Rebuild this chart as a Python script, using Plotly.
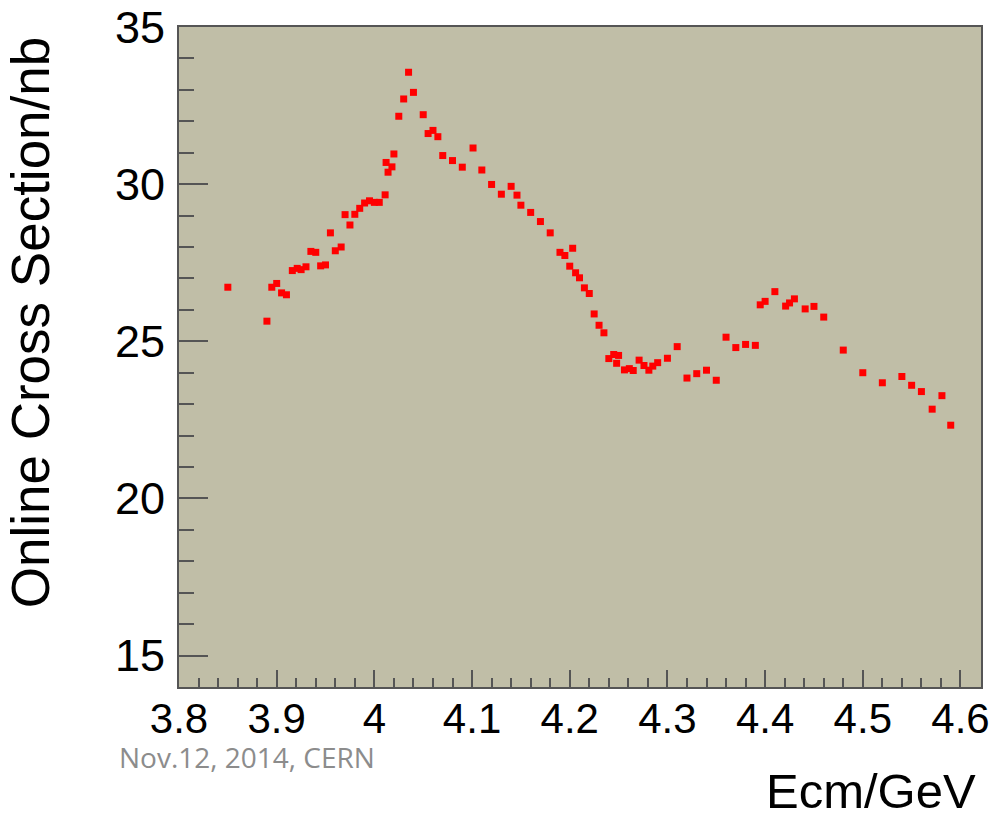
import plotly.graph_objects as go

# Data (Ecm in GeV, online cross section in nb)
ecm = [3.850, 3.890, 3.895, 3.900, 3.905, 3.910, 3.916, 3.921, 3.925, 3.930,
       3.935, 3.940, 3.945, 3.950, 3.955, 3.960, 3.966, 3.970, 3.975, 3.980,
       3.985, 3.990, 3.995, 4.000, 4.005, 4.011, 4.012, 4.014, 4.018, 4.020,
       4.025, 4.030, 4.035, 4.040, 4.050, 4.055, 4.060, 4.065, 4.070, 4.080,
       4.090, 4.101, 4.110, 4.120, 4.130, 4.140, 4.146, 4.150, 4.160, 4.170,
       4.180, 4.190, 4.195, 4.203, 4.200, 4.206, 4.210, 4.215, 4.220, 4.225,
       4.230, 4.235, 4.240, 4.245, 4.250, 4.248, 4.256, 4.261, 4.265, 4.271,
       4.276, 4.281, 4.285, 4.290, 4.300, 4.310, 4.320, 4.330, 4.340, 4.350,
       4.360, 4.370, 4.380, 4.390, 4.395, 4.400, 4.410, 4.421, 4.425, 4.430,
       4.441, 4.450, 4.460, 4.480, 4.500, 4.520, 4.540, 4.550, 4.560, 4.571,
       4.581, 4.590]
xsec = [26.72, 25.64, 26.72, 26.84, 26.54, 26.48, 27.25, 27.32, 27.28, 27.37,
        27.86, 27.83, 27.40, 27.43, 28.45, 27.88, 28.00, 29.03, 28.70, 29.04,
        29.23, 29.40, 29.47, 29.42, 29.42, 29.66, 30.69, 30.38, 30.55, 30.96,
        32.16, 32.71, 33.56, 32.92, 32.21, 31.61, 31.71, 31.51, 30.91, 30.75,
        30.54, 31.15, 30.45, 29.99, 29.68, 29.93, 29.65, 29.33, 29.10, 28.81,
        28.45, 27.83, 27.73, 27.96, 27.39, 27.18, 27.02, 26.70, 26.52, 25.87,
        25.51, 25.27, 24.45, 24.58, 24.55, 24.30, 24.09, 24.13, 24.07, 24.40,
        24.23, 24.08, 24.21, 24.32, 24.46, 24.83, 23.83, 23.97, 24.08, 23.76,
        25.13, 24.80, 24.90, 24.87, 26.16, 26.27, 26.58, 26.12, 26.22, 26.35,
        26.03, 26.11, 25.77, 24.72, 24.00, 23.68, 23.88, 23.60, 23.40, 22.84,
        23.27, 22.33]

x_tickvals = [3.8, 3.9, 4.0, 4.1, 4.2, 4.3, 4.4, 4.5, 4.6]
x_ticktext = ["3.8", "3.9", "4", "4.1", "4.2", "4.3", "4.4", "4.5", "4.6"]
y_tickvals = [15, 20, 25, 30, 35]
y_ticktext = ["15", "20", "25", "30", "35"]

x_title = "Ecm/GeV"
y_title = "Online Cross Section/nb"
note = "Nov.12, 2014, CERN"

FONT = "Liberation Sans, Arial, sans-serif"
AXC = "#555555"

fig = go.Figure()
fig.add_trace(go.Scatter(
    x=ecm, y=xsec, mode="markers",
    marker=dict(symbol="square", size=7, color="#ff0000", line=dict(width=0)),
    showlegend=False,
))

fig.update_layout(
    width=994, height=820,
    margin=dict(l=179, r=13, t=27, b=133),
    paper_bgcolor="white",
    plot_bgcolor="#c0bea7",
    font=dict(family=FONT, color="black"),
    xaxis=dict(
        range=[3.8, 4.621], showgrid=False, zeroline=False, automargin=False,
        showline=True, linecolor=AXC, linewidth=2, mirror=True,
        tickmode="array", tickvals=x_tickvals, ticktext=x_ticktext,
        ticks="inside", ticklen=17, tickwidth=2, tickcolor=AXC,
        tickfont=dict(size=42, family=FONT, color="black"),
        ticklabelstandoff=-6,
        minor=dict(dtick=0.02, tick0=3.8, ticks="inside", ticklen=9,
                   tickwidth=2, tickcolor=AXC, showgrid=False),
    ),
    yaxis=dict(
        range=[14.0, 35.0], showgrid=False, zeroline=False, automargin=False,
        showline=True, linecolor=AXC, linewidth=2, mirror=True,
        tickmode="array", tickvals=y_tickvals, ticktext=y_ticktext,
        ticks="inside", ticklen=29, tickwidth=2, tickcolor=AXC,
        tickfont=dict(size=45, family=FONT, color="black"),
        ticklabelstandoff=3,
        minor=dict(dtick=1, tick0=15, ticks="inside", ticklen=15,
                   tickwidth=2, tickcolor=AXC, showgrid=False),
    ),
    annotations=[
        dict(text=y_title, xref="paper", yref="paper", x=-0.1855, y=0.553,
             xanchor="center", yanchor="middle", textangle=-90,
             showarrow=False, font=dict(size=53, family=FONT, color="black")),
        dict(text=x_title, xref="paper", yref="paper", x=0.996, y=-0.158,
             xanchor="right", yanchor="middle",
             showarrow=False, font=dict(size=49, family=FONT, color="black")),
        dict(text=note, xref="paper", yref="paper", x=-0.0773, y=-0.106,
             xanchor="left", yanchor="middle",
             showarrow=False, font=dict(size=28, family="Open Sans, sans-serif", color="#8c8c8c")),
    ],
)

fig.write_html("out.html")
